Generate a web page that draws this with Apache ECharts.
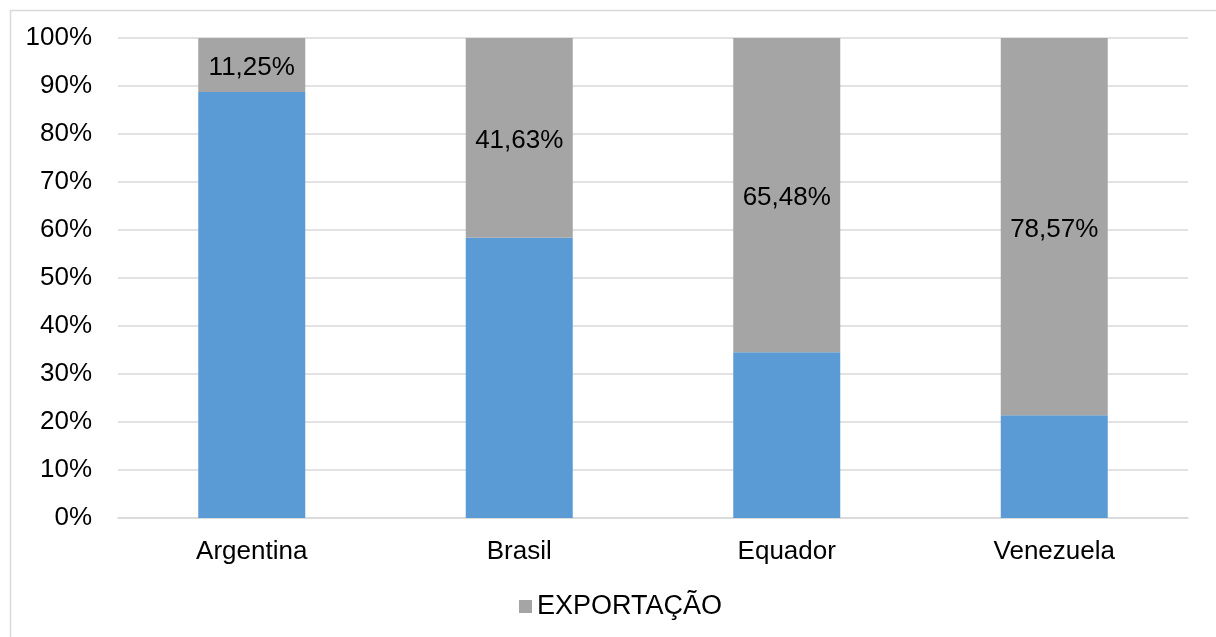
<!DOCTYPE html>
<html>
<head>
<meta charset="utf-8">
<script src="https://cdn.jsdelivr.net/npm/echarts@6/dist/echarts.min.js"></script>
<style>
  html, body { margin: 0; padding: 0; background: #fff; }
  #chart { width: 1216px; height: 637px; }
</style>
</head>
<body>
<div id="chart"></div>
<script>
// Countries and export share (%) of each
const countries = ['Argentina', 'Brasil', 'Equador', 'Venezuela'];
const exportShare = [11.25, 41.63, 65.48, 78.57];
// Remaining share completes each bar to 100%
const otherShare = [88.75, 58.37, 34.52, 21.43];
const yTicks = [0, 10, 20, 30, 40, 50, 60, 70, 80, 90, 100];

const FONT = '"Liberation Sans", Arial, sans-serif';
const FS = 26;
const chart = echarts.init(document.getElementById('chart'), null, { renderer: 'canvas' });

chart.setOption({
  animation: false,
  backgroundColor: '#ffffff',
  textStyle: { fontFamily: FONT },
  graphic: [{
    type: 'rect',
    left: 8, top: 8,
    shape: { width: 1240, height: 660 },
    style: { fill: 'none', stroke: '#d9d9d9', lineWidth: 1.5 },
    silent: true, z: -1
  }],
  grid: { left: 118, right: 28, top: 38, bottom: 119, containLabel: false },
  legend: {
    data: ['EXPORTAÇÃO'],
    bottom: 12,
    left: 514,
    icon: 'rect',
    itemWidth: 13, itemHeight: 13,
    itemGap: 5,
    textStyle: { fontFamily: FONT, fontSize: 27, color: '#000' }
  },
  xAxis: {
    type: 'category',
    data: countries,
    axisLine: { lineStyle: { color: '#d9d9d9', width: 1.5 } },
    axisTick: { show: false },
    axisLabel: { fontFamily: FONT, fontSize: FS, color: '#000', margin: 21 }
  },
  yAxis: {
    type: 'value',
    min: yTicks[0], max: yTicks[yTicks.length - 1], interval: 10,
    axisLine: { show: false },
    axisTick: { show: false },
    splitLine: { lineStyle: { color: '#d9d9d9', width: 1.5 } },
    axisLabel: { fontFamily: FONT, fontSize: FS, color: '#000', margin: 26,
      formatter: v => v + '%' }
  },
  series: [
    {
      name: 'OUTROS',
      type: 'bar',
      stack: 'total',
      data: otherShare,
      barWidth: '40%',
      itemStyle: { color: '#5b9bd5' }
    },
    {
      name: 'EXPORTAÇÃO',
      type: 'bar',
      stack: 'total',
      data: exportShare,
      barWidth: '40%',
      itemStyle: { color: '#a5a5a5' },
      label: {
        show: true,
        position: 'inside',
        offset: [0, 3],
        fontFamily: FONT, fontSize: FS, color: '#000',
        formatter: p => p.value.toFixed(2).replace('.', ',') + '%'
      }
    }
  ]
});
</script>
</body>
</html>
